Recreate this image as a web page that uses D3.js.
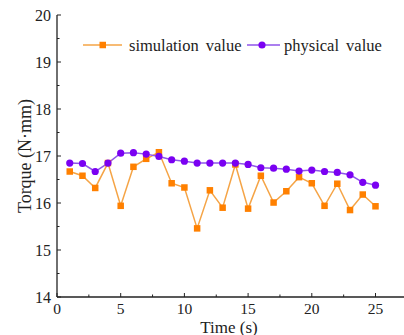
<!DOCTYPE html>
<html>
<head>
<meta charset="utf-8">
<script src="https://cdn.jsdelivr.net/npm/d3@7"></script>
<style>
  body { margin: 0; background: #fff; }
</style>
</head>
<body>
<div id="chart"></div>
<script>
const times = d3.range(1, 26);
const simulation = [16.67, 16.58, 16.32, 16.85, 15.94, 16.77, 16.94, 17.08, 16.42, 16.33,
  15.46, 16.27, 15.90, 16.82, 15.88, 16.58, 16.01, 16.25, 16.55, 16.42,
  15.94, 16.41, 15.85, 16.18, 15.93];
const physical = [16.85, 16.84, 16.67, 16.85, 17.06, 17.07, 17.04, 16.99, 16.92, 16.89,
  16.85, 16.85, 16.85, 16.85, 16.82, 16.75, 16.74, 16.72, 16.68, 16.70,
  16.67, 16.65, 16.60, 16.44, 16.38];
const xTicks = [0, 5, 10, 15, 20, 25];
const yTicks = [14, 15, 16, 17, 18, 19, 20];

const width = 404, height = 335;
const margin = { left: 57, top: 15, bottom: 38 };
const serif = "'Liberation Serif', 'Times New Roman', serif";
const orange = "#ff8000", orangeLine = "#f5a446";
const purple = "#7a00f2", purpleLine = "#8f55ea";

const svg = d3.select("#chart").append("svg")
  .attr("width", width)
  .attr("height", height)
  .style("display", "block");

const x = d3.scaleLinear().domain([0, 27.5]).range([margin.left, margin.left + 27.5 * 12.74]);
const y = d3.scaleLinear().domain([14, 20]).range([height - margin.bottom, margin.top]);

// x axis
const gx = svg.append("g").attr("transform", "translate(0," + y(14) + ")");
gx.append("line").attr("x1", x(0)).attr("x2", x(27.5)).attr("stroke", "#222").attr("stroke-width", 1.3);
gx.selectAll(".minor").data(d3.range(2.5, 27.5, 5)).enter().append("line")
  .attr("x1", d => x(d)).attr("x2", d => x(d)).attr("y1", 0).attr("y2", -2.5)
  .attr("stroke", "#222");
gx.selectAll(".major").data(xTicks).enter().append("line")
  .attr("x1", d => x(d)).attr("x2", d => x(d)).attr("y1", 0).attr("y2", -4)
  .attr("stroke", "#222");
gx.selectAll("text").data(xTicks).enter().append("text")
  .attr("x", d => x(d)).attr("y", 17)
  .attr("text-anchor", "middle").attr("font-size", 15.5).attr("fill", "#222")
  .attr("font-family", serif)
  .text(d => d);

// y axis
const gy = svg.append("g").attr("transform", "translate(" + x(0) + ",0)");
gy.append("line").attr("y1", y(14)).attr("y2", y(20)).attr("stroke", "#222").attr("stroke-width", 1.3);
gy.selectAll(".minor").data(d3.range(14.5, 20, 1)).enter().append("line")
  .attr("y1", d => y(d)).attr("y2", d => y(d)).attr("x1", 0).attr("x2", 2.5)
  .attr("stroke", "#222");
gy.selectAll(".major").data(yTicks).enter().append("line")
  .attr("y1", d => y(d)).attr("y2", d => y(d)).attr("x1", 0).attr("x2", 4)
  .attr("stroke", "#222");
gy.selectAll("text").data(yTicks).enter().append("text")
  .attr("x", -6).attr("y", d => y(d) + 5.5)
  .attr("text-anchor", "end").attr("font-size", 16).attr("fill", "#222")
  .attr("font-family", serif)
  .text(d => d);

// axis titles
svg.append("text")
  .attr("x", x(0) + 172).attr("y", 332.5)
  .attr("text-anchor", "middle").attr("font-size", 17).attr("fill", "#222")
  .attr("font-family", serif)
  .text("Time (s)");
svg.append("text")
  .attr("transform", "translate(31," + y(17) + ") rotate(-90)")
  .attr("text-anchor", "middle").attr("font-size", 18).attr("fill", "#222")
  .attr("font-family", serif)
  .text("Torque (N·mm)");

// lines
const line = d3.line().x((d, i) => x(times[i])).y(d => y(d));
svg.append("path").datum(simulation).attr("d", line)
  .attr("fill", "none").attr("stroke", orangeLine).attr("stroke-width", 1.5);
svg.append("path").datum(physical).attr("d", line)
  .attr("fill", "none").attr("stroke", purpleLine).attr("stroke-width", 1.5);

// markers
svg.selectAll(".sq").data(simulation).enter().append("rect")
  .attr("x", (d, i) => x(times[i]) - 3.25).attr("y", d => y(d) - 3.25)
  .attr("width", 6.5).attr("height", 6.5).attr("fill", orange);
svg.selectAll(".dot").data(physical).enter().append("circle")
  .attr("cx", (d, i) => x(times[i])).attr("cy", d => y(d))
  .attr("r", 3.6).attr("fill", purple);

// legend
const lg = svg.append("g").attr("transform", "translate(0,45)");
lg.append("line").attr("x1", 83).attr("x2", 122).attr("stroke", orangeLine).attr("stroke-width", 1.5);
lg.append("rect").attr("x", 99.5).attr("y", -3.25).attr("width", 6.5).attr("height", 6.5).attr("fill", orange);
lg.append("text").attr("x", 129).attr("y", 5.5).attr("font-size", 16.5).attr("fill", "#222")
  .attr("font-family", serif)
  .attr("word-spacing", 3).text("simulation value");
lg.append("line").attr("x1", 247).attr("x2", 280).attr("stroke", purpleLine).attr("stroke-width", 1.5);
lg.append("circle").attr("cx", 262).attr("cy", 0).attr("r", 3.6).attr("fill", purple);
lg.append("text").attr("x", 284).attr("y", 5.5).attr("font-size", 16.5).attr("fill", "#222")
  .attr("font-family", serif)
  .attr("word-spacing", 3).text("physical value");
</script>
</body>
</html>
